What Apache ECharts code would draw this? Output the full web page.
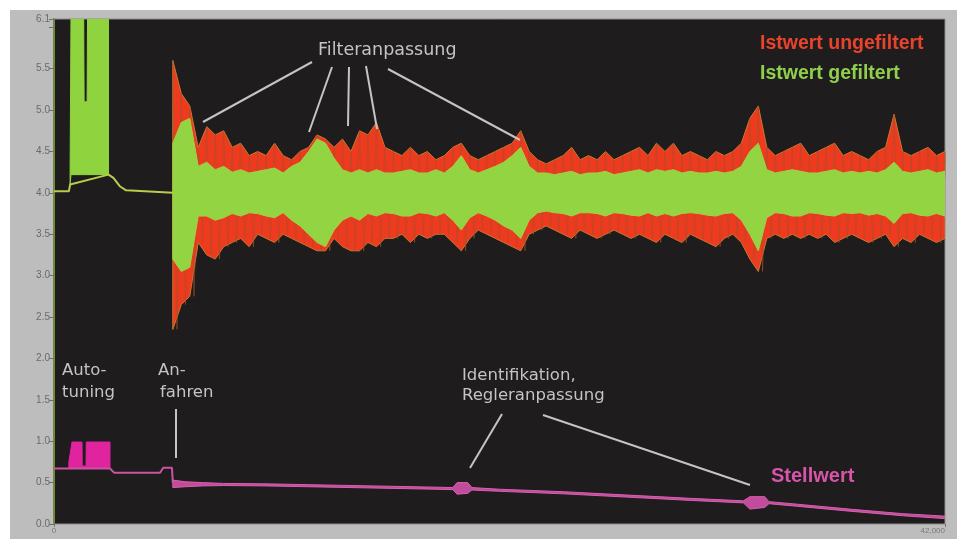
<!DOCTYPE html>
<html>
<head>
<meta charset="utf-8">
<script src="https://cdn.jsdelivr.net/npm/echarts@6/dist/echarts.min.js"></script>
<style>
  html, body { margin: 0; padding: 0; background: #fff; }
  #panel { position: absolute; left: 10px; top: 10px; width: 947px; height: 529px; background: #bdbdbd; }
  #chart { position: absolute; left: 0; top: 0; width: 963px; height: 539px; }
</style>
</head>
<body>
<div id="panel"></div>
<div id="chart"></div>
<script>
// Istwert noise band, sampled from 5600 every 400
var noiseStart = 5600
var noiseStep = 400
var redHi = [5.6, 5.2, 5.05, 4.55, 4.8, 4.7, 4.75, 4.55, 4.6, 4.45,
  4.5, 4.45, 4.6, 4.45, 4.4, 4.5, 4.55, 4.7, 4.65, 4.55,
  4.65, 4.5, 4.75, 4.7, 4.85, 4.55, 4.5, 4.45, 4.55, 4.45,
  4.5, 4.4, 4.45, 4.55, 4.6, 4.45, 4.4, 4.45, 4.5, 4.55,
  4.6, 4.75, 4.5, 4.4, 4.35, 4.4, 4.45, 4.55, 4.4, 4.45,
  4.4, 4.5, 4.4, 4.45, 4.5, 4.55, 4.45, 4.6, 4.5, 4.6,
  4.45, 4.5, 4.45, 4.4, 4.5, 4.45, 4.5, 4.6, 4.9, 5.05,
  4.55, 4.45, 4.5, 4.55, 4.6, 4.45, 4.5, 4.55, 4.6, 4.45,
  4.5, 4.45, 4.4, 4.5, 4.55, 4.95, 4.5, 4.45, 4.5, 4.55,
  4.45, 4.5]
var redLo = [2.35, 2.65, 2.75, 3.4, 3.25, 3.2, 3.35, 3.4, 3.45, 3.35,
  3.5, 3.45, 3.4, 3.5, 3.45, 3.4, 3.35, 3.3, 3.3, 3.45,
  3.35, 3.3, 3.3, 3.4, 3.35, 3.45, 3.45, 3.5, 3.4, 3.5,
  3.45, 3.5, 3.5, 3.4, 3.3, 3.45, 3.55, 3.5, 3.45, 3.4,
  3.35, 3.3, 3.5, 3.55, 3.6, 3.55, 3.5, 3.45, 3.55, 3.5,
  3.45, 3.5, 3.55, 3.5, 3.45, 3.5, 3.45, 3.4, 3.5, 3.45,
  3.4, 3.5, 3.45, 3.4, 3.35, 3.45, 3.5, 3.4, 3.2, 3.05,
  3.45, 3.5, 3.45, 3.5, 3.45, 3.5, 3.45, 3.5, 3.4, 3.45,
  3.5, 3.45, 3.4, 3.45, 3.5, 3.35, 3.45, 3.4, 3.5, 3.45,
  3.4, 3.45]
var greenHi = [4.6, 4.85, 4.9, 4.32, 4.37, 4.28, 4.32, 4.25, 4.28, 4.24,
  4.26, 4.28, 4.3, 4.24, 4.32, 4.37, 4.5, 4.65, 4.6, 4.42,
  4.28, 4.24, 4.28, 4.24, 4.28, 4.24, 4.24, 4.26, 4.28, 4.24,
  4.24, 4.28, 4.24, 4.32, 4.45, 4.28, 4.24, 4.28, 4.32, 4.37,
  4.45, 4.55, 4.32, 4.24, 4.24, 4.22, 4.24, 4.26, 4.22, 4.24,
  4.24, 4.26, 4.22, 4.24, 4.26, 4.28, 4.24, 4.28, 4.26, 4.28,
  4.24, 4.26, 4.24, 4.24, 4.26, 4.24, 4.26, 4.32, 4.5, 4.6,
  4.28, 4.24, 4.26, 4.28, 4.26, 4.24, 4.24, 4.26, 4.28, 4.24,
  4.26, 4.24, 4.26, 4.24, 4.28, 4.37, 4.26, 4.24, 4.26, 4.28,
  4.24, 4.26]
var greenLo = [3.2, 3.05, 3.1, 3.72, 3.72, 3.67, 3.7, 3.75, 3.72, 3.76,
  3.75, 3.72, 3.7, 3.76, 3.67, 3.6, 3.5, 3.4, 3.35, 3.55,
  3.67, 3.72, 3.67, 3.75, 3.72, 3.76, 3.75, 3.72, 3.72, 3.76,
  3.75, 3.72, 3.76, 3.67, 3.55, 3.7, 3.76, 3.72, 3.67, 3.6,
  3.55, 3.45, 3.67, 3.76, 3.78, 3.76, 3.75, 3.72, 3.76, 3.76,
  3.75, 3.72, 3.76, 3.75, 3.73, 3.72, 3.76, 3.72, 3.75, 3.72,
  3.75, 3.76, 3.75, 3.73, 3.72, 3.75, 3.76, 3.67, 3.5, 3.3,
  3.7, 3.76, 3.75, 3.72, 3.72, 3.76, 3.75, 3.73, 3.72, 3.76,
  3.75, 3.76, 3.73, 3.75, 3.72, 3.63, 3.75, 3.76, 3.73, 3.72,
  3.75, 3.72]

// autotuning oscillation of the filtered value
var autoTimes = [760, 800, 1400, 1420, 1560, 1580, 2570]
var autoHi = [4.3, 6.1, 6.1, 5.1, 5.1, 6.1, 6.1]
var autoLo = [4.1, 4.22, 4.22, 4.22, 4.22, 4.22, 4.22]

// filtered value before start-up
var baseTimes = [0, 700, 760, 2570, 2800, 3100, 3400, 5600]
var baseValues = [4.02, 4.02, 4.1, 4.22, 4.18, 4.08, 4.03, 4.0]

// Stellwert
var stellLineTimes = [0, 2640, 2830, 5000, 5150, 5560, 5600]
var stellLineValues = [0.67, 0.67, 0.62, 0.62, 0.68, 0.68, 0.5]
var stellAutoTimes = [700, 850, 1320, 1330, 1510, 1520, 2640]
var stellAutoHi = [0.75, 0.99, 0.99, 0.7, 0.7, 0.99, 0.99]
var stellAutoLo = [0.67, 0.67, 0.67, 0.67, 0.67, 0.67, 0.67]
var stellTimes = [5600, 6200, 7000, 8000, 10000, 12000, 15000, 18000, 18800, 19000, 19500, 19700,
  21000, 24000, 27000, 30000, 32500, 32800, 33500, 33700, 35000, 37500, 40000, 42000]
var stellHi = [0.53, 0.51, 0.5, 0.49, 0.485, 0.475, 0.46, 0.445, 0.44, 0.5, 0.5, 0.44,
  0.42, 0.39, 0.35, 0.31, 0.28, 0.33, 0.33, 0.27, 0.24, 0.18, 0.125, 0.095]
var stellLo = [0.44, 0.45, 0.46, 0.465, 0.46, 0.45, 0.435, 0.42, 0.415, 0.36, 0.37, 0.41,
  0.395, 0.365, 0.325, 0.285, 0.255, 0.18, 0.2, 0.245, 0.215, 0.155, 0.1, 0.065]

var noiseTimes = redHi.map(function (v, i) { return noiseStart + i * noiseStep })

// filled band between lo and hi, drawn as one polygon through the axis scales
function band(name, times, hi, lo, color, edge, z) {
  var n = times.length
  return {
    name: name, type: 'custom', silent: true, clip: true, z: z,
    encode: { x: 0, y: [1, 2] },
    data: times.map(function (t, i) { return [t, lo[i], hi[i]] }),
    renderItem: function (params, api) {
      if (params.dataIndexInside !== 0) return
      var top = [], bot = []
      for (var j = 0; j < n; j++) {
        top.push(api.coord([api.value(0, j), api.value(2, j)]))
        bot.unshift(api.coord([api.value(0, j), api.value(1, j)]))
      }
      return {
        type: 'polygon',
        shape: { points: top.concat(bot) },
        style: { fill: color, stroke: edge || color, lineWidth: 1 }
      }
    }
  }
}

// zigzag between hi and lo of each sample, gives the noisy texture
function zigzag(name, times, hi, lo, color, width, opacity, z) {
  var pts = []
  times.forEach(function (t, i) {
    pts.push([t, hi[i]])
    pts.push([t + noiseStep / 2, lo[i]])
  })
  return {
    name: name, type: 'line', symbol: 'none', silent: true, z: z,
    lineStyle: { color: color, width: width, opacity: opacity },
    data: pts
  }
}

function line(name, times, values, color, width, z) {
  return {
    name: name, type: 'line', symbol: 'none', silent: true, z: z,
    lineStyle: { color: color, width: width },
    data: times.map(function (t, i) { return [t, values[i]] })
  }
}

var annoColor = '#c4c4c4'
var font = '"Liberation Sans", Arial, sans-serif'
var annoFont = '"DejaVu Sans", sans-serif'

function txt(x, y, s, color, size, weight, family) {
  return {
    type: 'text', left: x, top: y, z: 100, silent: true,
    style: { text: s, fill: color, font: (weight || 'normal') + ' ' + size + 'px ' + (family || annoFont) }
  }
}
function seg(x1, y1, x2, y2) {
  return {
    type: 'line', z: 100, silent: true,
    shape: { x1: x1, y1: y1, x2: x2, y2: y2 },
    style: { stroke: annoColor, lineWidth: 2 }
  }
}

var chart = echarts.init(document.getElementById('chart'))
chart.setOption({
  animation: false,
  backgroundColor: 'transparent',
  grid: {
    left: 54, right: 18, top: 19, bottom: 15,
    show: true, backgroundColor: '#1e1c1d', borderColor: '#8c8c8c', borderWidth: 1
  },
  xAxis: {
    type: 'value', min: 0, max: 42000, interval: 42000,
    axisLine: { show: false },
    axisTick: { show: true, length: 3, lineStyle: { color: '#777' } },
    splitLine: { show: false },
    axisLabel: { fontSize: 8, color: '#7a7a7a', margin: 3, alignMaxLabel: 'right', fontFamily: font }
  },
  yAxis: {
    type: 'value', min: 0, max: 6.1, interval: 0.5,
    axisLine: { show: true, lineStyle: { color: '#6f8a3c', width: 2 } },
    axisTick: { show: true, length: 5, lineStyle: { color: '#6e6e6e' } },
    splitLine: { show: false },
    axisLabel: {
      fontSize: 10, color: '#6a6a6a', margin: 4, fontFamily: font,
      formatter: function (v) { return Math.abs(v - 6) < 1e-6 ? '' : v.toFixed(1) }
    }
  },
  series: [
    band('Istwert ungefiltert', noiseTimes, redHi, redLo, '#ee3a1f', '#c9772e', 2),
    zigzag('Istwert ungefiltert Rauschen', noiseTimes, redHi, redLo, '#a8502a', 1, 0.55, 3),
    band('Istwert gefiltert', noiseTimes, greenHi, greenLo, '#92d442', '#a7cf45', 4),
    band('Autotuning', autoTimes, autoHi, autoLo, '#8fd33f', null, 4),
    line('Istwert vor Anfahren', baseTimes, baseValues, '#b9cc4c', 2, 5),
    band('Stellwert Autotuning', stellAutoTimes, stellAutoHi, stellAutoLo, '#e0239e', null, 5),
    line('Stellwert Linie', stellLineTimes, stellLineValues, '#c9559f', 2, 5),
    band('Stellwert', stellTimes, stellHi, stellLo, '#c24c9c', '#d85fb0', 6)
  ],
  graphic: [
    txt(318, 41, 'Filteranpassung', annoColor, 17.5),
    seg(312, 62, 203, 122),
    seg(332, 67, 309, 132),
    seg(349, 67, 348, 126),
    seg(366, 66, 377, 129),
    seg(388, 69, 520, 140),
    txt(760, 34, 'Istwert ungefiltert', '#e8432c', 19.5, 'bold', font),
    txt(760, 64, 'Istwert gefiltert', '#8fcf4c', 19.5, 'bold', font),
    txt(62, 362, 'Auto-', annoColor, 16.5),
    txt(62, 384, 'tuning', annoColor, 16.5),
    txt(158, 362, 'An-', annoColor, 16.5),
    txt(160, 384, 'fahren', annoColor, 16.5),
    seg(176, 409, 176, 458),
    txt(462, 367, 'Identifikation,', annoColor, 16.5),
    txt(462, 387, 'Regleranpassung', annoColor, 16.5),
    seg(502, 414, 470, 468),
    seg(543, 415, 750, 485),
    txt(771, 466, 'Stellwert', '#d655a9', 20, 'bold', font)
  ]
})
</script>
</body>
</html>
